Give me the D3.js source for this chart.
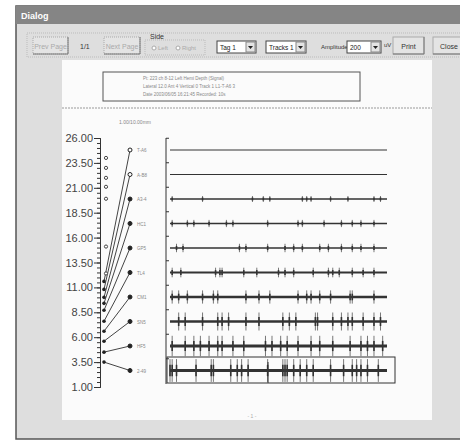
<!DOCTYPE html>
<html lang="en">
<style>
body { margin: 0; background: #fff; }
svg { display: block; font-family: "Liberation Sans", Arial, sans-serif; }
.ruler .domain, .frame .domain { stroke: #333; }
.ruler line, .frame line { stroke: #333; }
.ruler text { font-size: 11px; fill: #444; }
</style>
<head>
    <title>Dialog</title>
    <script src="https://d3js.org/d3.v7.min.js"></script>
</head>
<body>
<div id="main"></div>
<script type="text/javascript">
    // channel labels, top to bottom
    const channels = ['T-A6', 'A-B8', 'A3-4', 'HC1', 'GP5', 'TL4', 'CM1', 'SN5', 'HF5', '2-49'];
    // contact depth of each channel on the ruler
    const contactDepth = [11.6, 10.8, 10.0, 9.4, 8.7, 7.6, 6.6, 5.6, 4.5, 3.5];
    // contacts not recorded
    const idleContacts = [24.0, 23.0, 22.0, 21.1, 19.9, 15.1, 12.4];
    const rulerTicks = [1, 3.5, 6, 8.5, 11, 13.5, 16, 18.5, 21, 23.5, 26];
    // spike amplitude per channel (uV)
    const spikeAmp = [0, 0, 25, 30, 35, 40, 55, 75, 85, 95];
    // spike times per channel (s)
    const spikes = [
        [],
        [],
        [0.1, 1.5, 3.8, 4.3, 4.6, 6.1, 6.3, 6.5, 7.4, 8.2, 9.4, 9.7],
        [0.1, 0.8, 1.1, 1.8, 2.6, 2.9, 4.5, 5.9, 6.1, 7.1, 7.9, 8.4, 8.8, 9.4],
        [0.3, 0.6, 3.2, 3.5, 4.5, 5.3, 5.7, 6.1, 6.9, 7.3, 7.9, 8.4, 8.8, 9.4],
        [0.1, 0.5, 2.1, 2.3, 2.4, 3.4, 4.0, 5.0, 5.3, 5.7, 6.6, 7.3, 7.5, 7.8, 8.4, 8.9, 9.4],
        [0.1, 0.4, 0.8, 1.5, 2.0, 2.2, 3.5, 4.1, 4.6, 5.9, 6.3, 6.5, 6.9, 7.4, 8.3, 8.4, 9.4],
        [0.4, 0.7, 1.5, 2.2, 2.4, 2.7, 3.5, 4.1, 5.2, 5.5, 5.8, 6.7, 6.8, 7.5, 7.9, 8.2, 8.4, 8.9, 9.4, 9.7],
        [0.1, 0.7, 1.1, 1.4, 1.8, 2.2, 2.4, 2.9, 3.4, 4.4, 4.7, 5.1, 5.4, 5.9, 6.5, 6.9, 7.5, 8.3, 8.8, 9.1, 9.4, 9.8],
        [0.0, 0.1, 0.3, 1.2, 1.9, 2.0, 2.8, 3.1, 3.3, 3.6, 4.5, 5.2, 5.3, 5.4, 5.7, 6.0, 6.3, 6.6, 7.4, 8.0, 8.4, 8.6, 8.8, 9.1, 9.6]
    ];
    const headerLines = ['Pt: 223 ch 8-12  Left  Hemi  Depth (Signal)',
                         'Lateral 12.0  Ant 4  Vertical 0 Track 1  L1-T-A6 3',
                         'Date 2003/06/05 16:21:45   Recorded: 10s'];
    const baseWidth = [1, 1, 1.5, 1.5, 1.6, 2, 2.4, 2.6, 3, 3];

    const width = 460;
    const height = 442;

    const svg = d3.select('#main')
        .append('svg')
        .attr('width', width)
        .attr('height', height);

    // dialog window
    svg.append('rect').attr('x', 16).attr('y', 6).attr('width', 450).attr('height', 433)
        .attr('fill', '#dedede').attr('stroke', '#555').attr('stroke-width', 1.5);
    svg.append('rect').attr('x', 16).attr('y', 6).attr('width', 450).attr('height', 18)
        .attr('fill', '#858585');
    svg.append('text').text('Dialog').attr('x', 21).attr('y', 19)
        .attr('font-size', 9).attr('font-weight', 'bold').attr('fill', '#fff');

    // toolbar
    const bar = svg.append('g');
    bar.append('rect').attr('x', 27).attr('y', 33).attr('width', 440).attr('height', 24)
        .attr('fill', 'none').attr('stroke', '#bbb').attr('stroke-dasharray', '1,1');

    const button = (x, w, label, disabled, y = 37, h = 17) => {
        bar.append('rect').attr('x', x).attr('y', y).attr('width', w).attr('height', h)
            .attr('fill', '#e4e4e4').attr('stroke', '#aaa').attr('stroke-dasharray', disabled ? '1,1' : null);
        bar.append('line').attr('x1', x).attr('x2', x + w).attr('y1', y + h).attr('y2', y + h)
            .attr('stroke', '#777');
        bar.append('line').attr('x1', x + w).attr('x2', x + w).attr('y1', y).attr('y2', y + h)
            .attr('stroke', '#777');
        bar.append('text').text(label).attr('x', x + w / 2).attr('y', y + h / 2 + 3)
            .attr('text-anchor', 'middle').attr('font-size', 7)
            .attr('fill', disabled ? '#aaa' : '#333');
    };
    button(33, 35, 'Prev Page', true);
    button(104, 36, 'Next Page', true);
    button(393, 31, 'Print', false);
    button(433, 32, 'Close', false);
    bar.append('text').text('1/1').attr('x', 80).attr('y', 49).attr('font-size', 7).attr('fill', '#333');

    bar.append('rect').attr('x', 145).attr('y', 40).attr('width', 60).attr('height', 15)
        .attr('fill', 'none').attr('stroke', '#bbb').attr('stroke-dasharray', '1,1');
    bar.append('text').text('Side').attr('x', 150).attr('y', 39).attr('font-size', 7).attr('fill', '#333');
    [['Left', 152], ['Right', 176]].forEach(([t, x]) => {
        bar.append('circle').attr('cx', x + 2).attr('cy', 48).attr('r', 2)
            .attr('fill', '#fff').attr('stroke', '#aaa');
        bar.append('text').text(t).attr('x', x + 6).attr('y', 50).attr('font-size', 6).attr('fill', '#aaa');
    });

    const combo = (x, w, label) => {
        bar.append('rect').attr('x', x).attr('y', 41).attr('width', w).attr('height', 12)
            .attr('fill', '#fff').attr('stroke', '#444');
        bar.append('rect').attr('x', x + w - 10).attr('y', 42).attr('width', 9).attr('height', 10)
            .attr('fill', '#e4e4e4').attr('stroke', '#888');
        bar.append('path').attr('d', `M${x + w - 8},46 l5,0 l-2.5,3 z`).attr('fill', '#222');
        bar.append('text').text(label).attr('x', x + 3).attr('y', 50).attr('font-size', 6.5).attr('fill', '#222');
    };
    combo(217, 39, 'Tag 1');
    combo(266, 40, 'Tracks 1');
    bar.append('text').text('Amplitude').attr('x', 321).attr('y', 49).attr('font-size', 6).attr('fill', '#333');
    combo(347, 34, '200');
    bar.append('text').text('uV').attr('x', 384).attr('y', 47).attr('font-size', 6).attr('fill', '#333');

    // page
    svg.append('rect').attr('x', 62).attr('y', 60).attr('width', 370).attr('height', 360)
        .attr('fill', '#fbfbfb');
    svg.append('rect').attr('x', 103).attr('y', 72).attr('width', 257).attr('height', 29)
        .attr('fill', 'none').attr('stroke', '#555');
    headerLines.forEach((t, i) => {
        svg.append('text').text(t).attr('x', 143).attr('y', 80 + i * 8)
            .attr('font-size', 4.5).attr('fill', '#888');
    });
    svg.append('line').attr('x1', 62).attr('x2', 432).attr('y1', 108).attr('y2', 108)
        .attr('stroke', '#999').attr('stroke-dasharray', '2,1');
    svg.append('text').text('1.00/10.00mm').attr('x', 119).attr('y', 124)
        .attr('font-size', 5).attr('fill', '#888');
    svg.append('text').text('- 1 -').attr('x', 252).attr('y', 418)
        .attr('text-anchor', 'middle').attr('font-size', 5).attr('fill', '#aaa');

    // depth ruler
    const depthScale = d3.scaleLinear().domain([1, 26]).range([387, 138]);
    const rulerX = 100;
    svg.append('g').attr('class', 'ruler')
        .attr('transform', `translate(${rulerX},0)`)
        .call(d3.axisLeft(depthScale).tickValues(d3.range(1, 26.01, 0.5)).tickSize(3).tickFormat(''));
    svg.append('g').attr('class', 'ruler')
        .attr('transform', `translate(${rulerX},0)`)
        .call(d3.axisLeft(depthScale).tickValues(rulerTicks).tickSize(6).tickPadding(1)
            .tickFormat(d3.format('.2f')));

    // rows
    const rowScale = d3.scaleLinear().domain([0, channels.length - 1]).range([150, 370.5]);
    const timeScale = d3.scaleLinear().domain([0, 10]).range([170, 387]);
    const ampScale = d3.scaleLinear().domain([0, 200]).range([0, 24]);

    // links from contacts to labels
    const links = svg.append('g');
    channels.forEach((c, i) => {
        links.append('line')
            .attr('x1', 104).attr('y1', depthScale(contactDepth[i]))
            .attr('x2', 130).attr('y2', rowScale(i))
            .attr('stroke', '#444').attr('stroke-width', 1);
        links.append('circle').attr('cx', 104).attr('cy', depthScale(contactDepth[i])).attr('r', 1.8)
            .attr('fill', '#222');
        links.append('circle').attr('cx', 130).attr('cy', rowScale(i)).attr('r', 2)
            .attr('fill', i < 2 ? '#fff' : '#222').attr('stroke', '#222');
        links.append('text').text(c).attr('x', 137).attr('y', rowScale(i) + 2)
            .attr('font-size', 4.5).attr('fill', '#888');
    });
    idleContacts.forEach(d => {
        links.append('circle').attr('cx', 106).attr('cy', depthScale(d)).attr('r', 1.6)
            .attr('fill', '#fff').attr('stroke', '#444');
    });

    // trace frame
    svg.append('g').attr('class', 'frame')
        .attr('transform', 'translate(166,0)')
        .call(d3.axisRight(rowScale).tickValues(d3.range(-0.5, 9, 1)).tickSize(3).tickFormat(''))
        .select('.domain').attr('d', 'M0,138V384');

    const traces = svg.append('g');
    channels.forEach((c, i) => {
        const y = rowScale(i);
        traces.append('line').attr('x1', timeScale(0)).attr('x2', timeScale(10))
            .attr('y1', y).attr('y2', y)
            .attr('stroke', '#333').attr('stroke-width', baseWidth[i]);
        const a = ampScale(spikeAmp[i]);
        traces.selectAll(null).data(spikes[i]).enter().append('line')
            .attr('x1', d => timeScale(d)).attr('x2', d => timeScale(d))
            .attr('y1', y - a).attr('y2', y + a)
            .attr('stroke', '#555').attr('stroke-width', 0.8);
        traces.selectAll(null).data(spikes[i]).enter().append('line')
            .attr('x1', d => timeScale(d)).attr('x2', d => timeScale(d))
            .attr('y1', y - a * 0.5).attr('y2', y + a * 0.5)
            .attr('stroke', '#333').attr('stroke-width', 1.6);
    });

    // selected track box
    svg.append('rect').attr('x', 167).attr('y', 357).attr('width', 228).attr('height', 26)
        .attr('fill', 'none').attr('stroke', '#333');
    svg.append('line').attr('x1', 268).attr('x2', 268).attr('y1', 362).attr('y2', 383)
        .attr('stroke', '#333');
</script>
</body>
</html>
